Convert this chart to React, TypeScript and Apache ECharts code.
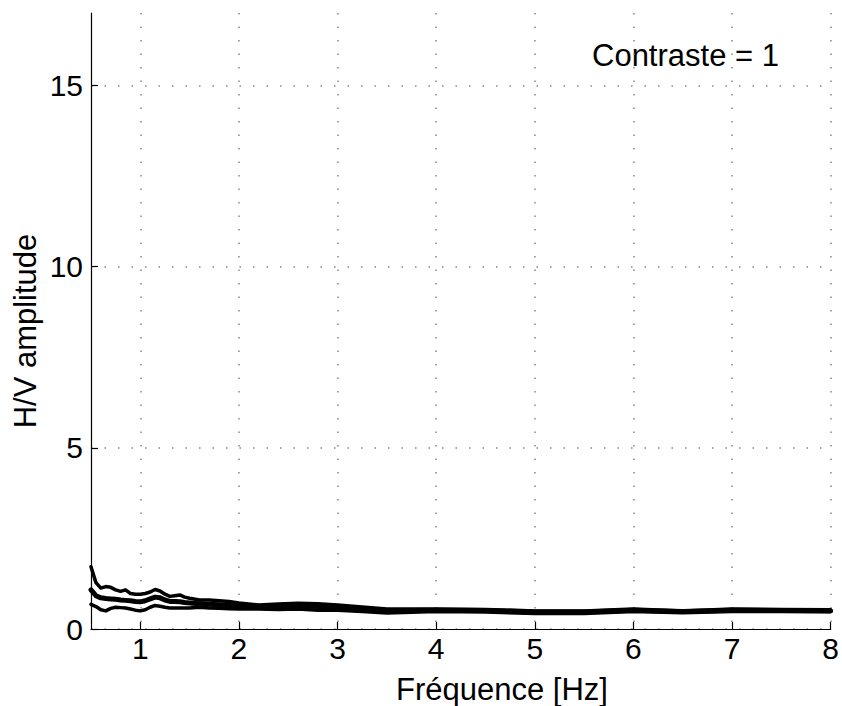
import React, { useEffect, useRef } from "react";
import * as echarts from "echarts";

const freq = [0.5, 0.55, 0.6, 0.65, 0.7, 0.75, 0.8, 0.85, 0.9, 0.95, 1.0, 1.05, 1.1, 1.15, 1.2, 1.25, 1.3, 1.35, 1.4, 1.45, 1.5, 1.6, 1.7, 1.8, 1.9, 2.0, 2.2, 2.4, 2.6, 2.8, 3.0, 3.25, 3.5, 3.75, 4.0, 4.5, 5.0, 5.5, 6.0, 6.5, 7.0, 7.5, 8.0];

const upperCurve = [1.72, 1.28, 1.13, 1.17, 1.15, 1.08, 1.04, 1.08, 0.98, 0.96, 0.96, 0.98, 1.02, 1.09, 1.05, 0.96, 0.9, 0.92, 0.94, 0.88, 0.85, 0.8, 0.8, 0.78, 0.76, 0.72, 0.66, 0.69, 0.71, 0.7, 0.66, 0.61, 0.55, 0.55, 0.55, 0.54, 0.5, 0.5, 0.55, 0.5, 0.55, 0.54, 0.53];

const medianCurve = [1.08, 0.92, 0.86, 0.84, 0.83, 0.82, 0.8, 0.79, 0.78, 0.76, 0.75, 0.78, 0.83, 0.88, 0.86, 0.8, 0.76, 0.76, 0.75, 0.73, 0.72, 0.7, 0.68, 0.67, 0.65, 0.63, 0.61, 0.62, 0.64, 0.62, 0.6, 0.55, 0.5, 0.51, 0.52, 0.51, 0.47, 0.47, 0.52, 0.48, 0.52, 0.51, 0.5];

const lowerCurve = [0.68, 0.62, 0.53, 0.5, 0.57, 0.6, 0.59, 0.58, 0.55, 0.52, 0.5, 0.53, 0.6, 0.65, 0.63, 0.6, 0.58, 0.58, 0.58, 0.58, 0.58, 0.6, 0.58, 0.57, 0.56, 0.55, 0.55, 0.54, 0.55, 0.52, 0.52, 0.48, 0.44, 0.46, 0.48, 0.47, 0.43, 0.43, 0.48, 0.45, 0.48, 0.48, 0.48];

const xTicks = [1, 2, 3, 4, 5, 6, 7, 8];
const yTicks = [0, 5, 10, 15];

const FONT = "'Liberation Sans', Arial, sans-serif";

export default function App() {
  const ref = useRef<HTMLDivElement>(null);
  useEffect(() => {
    if (!ref.current) return;
    const chart = echarts.init(ref.current, null, { renderer: "svg" });
    const toPairs = (ys: number[]) => freq.map((f, i) => [f, ys[i]]);
    const lineSeries = (name: string, ys: number[], w: number) => ({
      name,
      type: "line",
      data: toPairs(ys),
      showSymbol: false,
      symbol: "none",
      lineStyle: { color: "#000", width: w, join: "round", cap: "round" },
      z: 3,
    });
    chart.setOption({
      animation: false,
      backgroundColor: "#fff",
      grid: { left: 91, right: 6, top: 13, bottom: 77, containLabel: false },
      xAxis: {
        type: "value",
        min: 0.5,
        max: 8,
        axisLine: { show: true, lineStyle: { color: "#000", width: 1.2 } },
        axisTick: {
          show: true,
          inside: true,
          length: 7,
          customValues: xTicks,
          lineStyle: { color: "#000", width: 1.2 },
        },
        axisLabel: {
          customValues: xTicks,
          color: "#000",
          fontSize: 30,
          fontFamily: FONT,
          margin: 4,
        },
        splitLine: {
          show: true,
          lineStyle: { color: "#888", width: 1.5, type: [1.5, 12] },
        },
      },
      yAxis: {
        type: "value",
        min: 0,
        max: 17,
        axisLine: { show: true, lineStyle: { color: "#000", width: 1.2 } },
        axisTick: {
          show: true,
          inside: true,
          length: 7,
          customValues: yTicks,
          lineStyle: { color: "#000", width: 1.2 },
        },
        axisLabel: {
          customValues: yTicks,
          color: "#000",
          fontSize: 30,
          fontFamily: FONT,
          margin: 8,
        },
        splitLine: {
          show: true,
          lineStyle: { color: "#888", width: 1.5, type: [1.5, 12] },
        },
      },
      series: [
        lineSeries("upper", upperCurve, 3.5),
        lineSeries("median", medianCurve, 5),
        lineSeries("lower", lowerCurve, 3.5),
      ],
      graphic: [
        {
          type: "text",
          x: 592,
          y: 55,
          style: {
            text: "Contraste = 1",
            fontSize: 31,
            fontFamily: FONT,
            fill: "#000",
            verticalAlign: "middle",
            align: "left",
          },
        },
        {
          type: "text",
          x: 502,
          y: 689,
          style: {
            text: "Fréquence [Hz]",
            fontSize: 31,
            fontFamily: FONT,
            fill: "#000",
            verticalAlign: "middle",
            align: "center",
          },
        },
        {
          type: "text",
          x: 25,
          y: 331,
          rotation: Math.PI / 2,
          style: {
            text: "H/V amplitude",
            fontSize: 31,
            fontFamily: FONT,
            fill: "#000",
            verticalAlign: "middle",
            align: "center",
          },
        },
      ],
    });
    return () => chart.dispose();
  }, []);
  return <div ref={ref} style={{ width: 842, height: 706, position: "absolute", left: 0, top: 0 }} />;
}
